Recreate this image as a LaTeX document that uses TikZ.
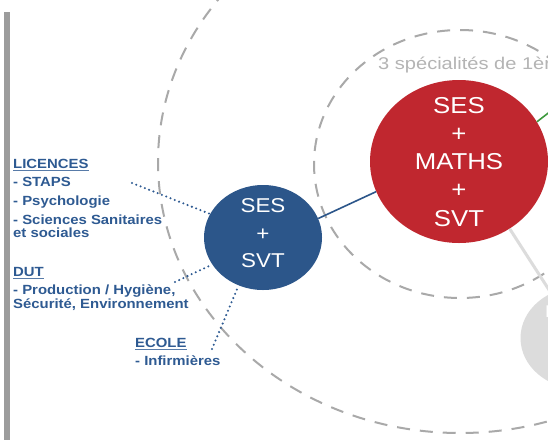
\documentclass[tikz,border=0pt]{standalone}
\usepackage{fontspec}
\setmainfont{Liberation Sans}
\newfontfamily\wfont[FakeStretch=1.12]{Liberation Sans}
\newfontfamily\sfont[FakeStretch=1.18]{Liberation Sans}
\usetikzlibrary{shapes.geometric}
\definecolor{sesblue}{HTML}{2C568A}
\definecolor{labblue}{HTML}{2E5A92}
\definecolor{sesred}{HTML}{C0272F}
\definecolor{lgray}{HTML}{DCDCDC}
\definecolor{ringgray}{HTML}{A9A9A9}
\definecolor{spgray}{HTML}{B4B4B4}
\definecolor{bargray}{HTML}{9C9C9C}
\definecolor{lgreen}{HTML}{3E9A3E}
\begin{document}
\begin{tikzpicture}[x=1pt,y=-1pt,
  ring/.style={draw=ringgray, line width=2pt, dash pattern=on 13pt off 10pt},
  bubble/.style={ellipse, inner sep=0pt, draw=none},
  bubtext/.style={inner sep=0pt, text=white, align=center},
  lab/.style={anchor=base west, inner sep=0pt, text=labblue,
    font=\wfont\bfseries\fontsize{13.3}{16}\selectfont},
  uline/.style={draw=labblue!80, line width=1pt},
  dotline/.style={draw=labblue, line width=2.3pt, line cap=round, dash pattern=on 0pt off 4.6pt},
  linkline/.style={draw=sesblue, line width=1.6pt}
]
\useasboundingbox (0,0) rectangle (548,440);
\clip (0,0) rectangle (548,440);
\fill[white] (0,0) rectangle (548,440);
% left bar
\fill[bargray] (4,11.7) rectangle (10,440);
% dashed rings
\draw[ring] (460,162) ellipse [x radius=302pt, y radius=271pt];
\draw[ring] (460,164) ellipse [x radius=146pt, y radius=134pt];
% bubbles
\node[bubble, fill=sesblue, minimum width=118pt, minimum height=105pt] (blue) at (263,237.5) {};
\node[bubble, fill=sesred, minimum width=178pt, minimum height=163pt] (red) at (459,161.5) {};
\node[bubble, fill=lgray, minimum width=119pt, minimum height=102pt] (gray) at (580,338) {};
% connectors
\draw[linkline] (blue.19) -- (red.200);
\draw[draw=lgray, line width=3pt] (red.307) -- (gray);
\coordinate (gend) at (565,100);
\draw[draw=lgreen, line width=1.6pt] (red.27) -- (gend);
\coordinate (d1) at (132,183);
\coordinate (d2) at (175,282);
\coordinate (d3) at (212,349);
\draw[dotline] (d1) -- (blue.156);
\draw[dotline] (d2) -- (blue.208);
\draw[dotline] (d3) -- (blue.243);
% bubble texts
\node[bubtext, font=\wfont\fontsize{20}{27.8}\selectfont] (bluetxt) at (263,233.3) {SES\\+\\SVT};
\node[bubtext, font=\wfont\fontsize{23}{28.3}\selectfont] (redtxt) at (459,161.7) {SES\\+\\MATHS\\+\\SVT};
\node[anchor=base west, inner sep=0pt, text=white, font=\wfont\fontsize{17}{20}\selectfont] (graytxt) at (545,317) {M};
\node[anchor=base west, inner sep=0pt, text=spgray, font=\sfont\fontsize{17}{20}\selectfont] (spec) at (378,69) {3 spécialités de 1ère};
% labels
\node[lab] (lic) at (13,168.3) {LICENCES};
\node[lab] (staps) at (13,186.7) {- STAPS};
\node[lab] (psy) at (13,205) {- Psychologie};
\node[lab] (sss) at (13,224) {- Sciences Sanitaires};
\node[lab] (soc) at (13,237.3) {et sociales};
\node[lab] (dut) at (13,276.7) {DUT};
\node[lab] (prod) at (13,294) {- Production / Hygiène,};
\node[lab] (secu) at (13,308.3) {Sécurité, Environnement};
\node[lab] (eco) at (135,347) {ECOLE};
\node[lab] (inf) at (135,365.7) {- Infirmières};
\draw[uline] ([yshift=-2pt]lic.base west) -- ([yshift=-2pt]lic.base east);
\draw[uline] ([yshift=-2pt]dut.base west) -- ([yshift=-2pt]dut.base east);
\draw[uline] ([yshift=-2pt]eco.base west) -- ([yshift=-2pt]eco.base east);
\end{tikzpicture}
\end{document}
